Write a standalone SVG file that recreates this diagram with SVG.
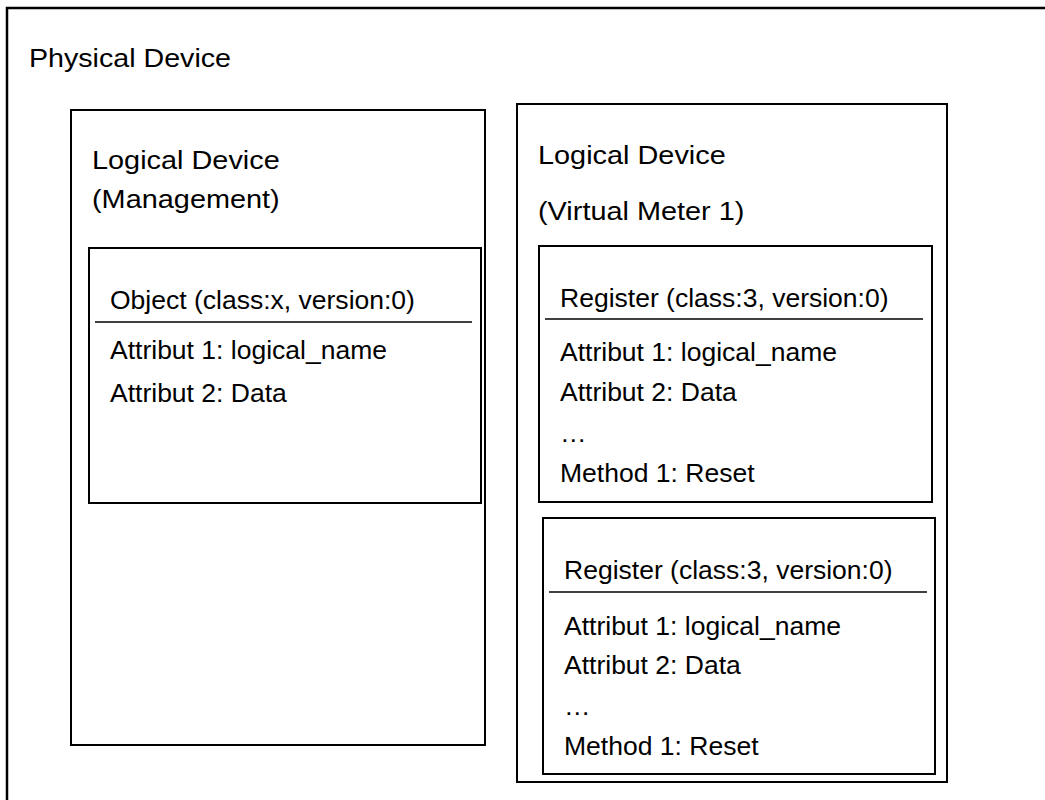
<svg xmlns="http://www.w3.org/2000/svg" width="1045" height="800" viewBox="0 0 1045 800">
<style>
.box{fill:none;stroke:#000;stroke-width:2}
.outer{fill:none;stroke:#000;stroke-width:2.5}
.sep{stroke:#000;stroke-width:1.6}
.h{font-family:"Liberation Sans",Arial,sans-serif;font-size:26.5px;fill:#000}
.t{font-family:"Liberation Sans",Arial,sans-serif;font-size:26px;fill:#000}
</style>
<rect width="1045" height="800" fill="#fff"/>
<g id="physical-device">
<rect class="outer" x="7" y="8" width="1060" height="820"/>
<text class="h" transform="translate(29,67) scale(1.08,1)">Physical Device</text>
</g>
<g id="logical-device-management">
<rect class="box" x="71" y="110" width="414" height="635"/>
<text class="h" transform="translate(92,169) scale(1.09,1)">Logical Device</text>
<text class="h" transform="translate(92,208) scale(1.09,1)">(Management)</text>
</g>
<g id="object">
<rect class="box" x="89" y="248" width="392" height="255"/>
<text class="t" transform="translate(110,309) scale(1.02,1)">Object (class:x, version:0)</text>
<line class="sep" x1="95" y1="322" x2="472" y2="322"/>
<text class="t" transform="translate(110,359) scale(1.02,1)">Attribut 1: logical_name</text>
<text class="t" transform="translate(110,402) scale(1.02,1)">Attribut 2: Data</text>
</g>
<g id="logical-device-virtual-meter">
<rect class="box" x="517" y="104" width="430" height="678"/>
<text class="h" transform="translate(538,164) scale(1.09,1)">Logical Device</text>
<text class="h" transform="translate(538,220) scale(1.09,1)">(Virtual Meter 1)</text>
</g>
<g id="register-1">
<rect class="box" x="539" y="246" width="393" height="256"/>
<text class="t" transform="translate(560,307) scale(1.02,1)">Register (class:3, version:0)</text>
<line class="sep" x1="545" y1="319" x2="923" y2="319"/>
<text class="t" transform="translate(560,361) scale(1.02,1)">Attribut 1: logical_name</text>
<text class="t" transform="translate(560,401) scale(1.02,1)">Attribut 2: Data</text>
<text class="t" transform="translate(560,442) scale(1.02,1)">…</text>
<text class="t" transform="translate(560,482) scale(1.02,1)">Method 1: Reset</text>
</g>
<g id="register-2">
<rect class="box" x="543" y="518" width="392" height="256"/>
<text class="t" transform="translate(564,579) scale(1.02,1)">Register (class:3, version:0)</text>
<line class="sep" x1="549" y1="592" x2="927" y2="592"/>
<text class="t" transform="translate(564,635) scale(1.02,1)">Attribut 1: logical_name</text>
<text class="t" transform="translate(564,674) scale(1.02,1)">Attribut 2: Data</text>
<text class="t" transform="translate(564,715) scale(1.02,1)">…</text>
<text class="t" transform="translate(564,755) scale(1.02,1)">Method 1: Reset</text>
</g>
<g id="connectors"></g>
</svg>
